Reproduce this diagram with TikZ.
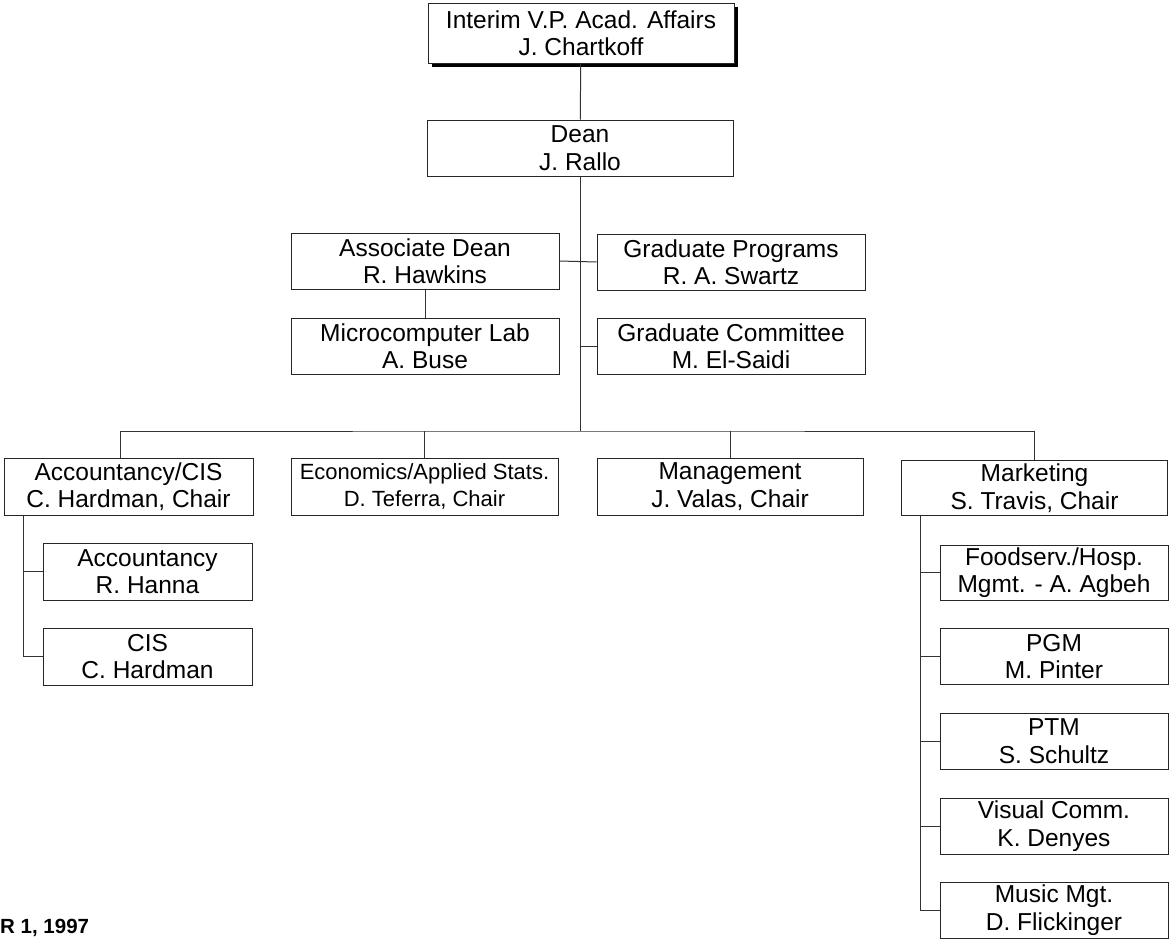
\documentclass[tikz,border=0pt]{standalone}
\usepackage{fontspec}
\setmainfont{Liberation Sans}
\usetikzlibrary{positioning,calc,shadows}

\begin{document}
\begin{tikzpicture}[x=1pt,y=-1pt,
    unit/.style={draw=black!85, line width=1pt, fill=white, align=center,
      inner sep=0pt, minimum width=#1, minimum height=56pt,
      font=\fontsize{24.5}{27.5}\selectfont},
    link/.style={draw=black!80, line width=1pt}]
            \useasboundingbox (0,0) rectangle (1170,948);
            \node[unit=306pt, minimum height=60pt,
              drop shadow={opacity=1, fill=black, shadow xshift=3.5pt, shadow yshift=-4pt}]
              (vp) at (581,33) {Interim V.P. Acad. Affairs\\J. Chartkoff};
            \node[unit=306pt] (dean) at (580,148) {Dean\\J. Rallo};
            \node[unit=268pt] (assoc) at (425,261) {Associate Dean\\R. Hawkins};
            \node[unit=268pt] (gradprog) at (731,262) {Graduate Programs\\R. A. Swartz};
            \node[unit=268pt] (microlab) at (425,346) {Microcomputer Lab\\A. Buse};
            \node[unit=268pt] (gradcomm) at (731,346) {Graduate Committee\\M. El-Saidi};
            \coordinate (bus) at (580,431);
            \node[unit=249pt, minimum height=57pt] (acc) at (128.5,486.5) {Accountancy/CIS\\C. Hardman, Chair};
            \node[unit=267pt, minimum height=57pt, font=\fontsize{22}{27.5}\selectfont] (econ) at (424.5,486.5) {Economics/Applied Stats.\\D. Teferra, Chair};
            \node[unit=266pt, minimum height=57pt] (mgmt) at (730,486.5) {Management\\J. Valas, Chair};
            \node[unit=266pt, minimum height=55pt] (mkt) at (1034.5,488) {Marketing\\S. Travis, Chair};
            \node[unit=209pt, minimum height=57pt] (accy) at (147.5,571.5) {Accountancy\\R. Hanna};
            \node[unit=209pt, minimum height=57pt] (cis) at (147.5,656.5) {CIS\\C. Hardman};
            \node[unit=228pt, minimum height=55pt] (food) at (1054,572.5) {Foodserv./Hosp.\\Mgmt. - A. Agbeh};
            \node[unit=228pt] (pgm) at (1054,656.5) {PGM\\M. Pinter};
            \node[unit=228pt] (ptm) at (1054,741) {PTM\\S. Schultz};
            \node[unit=228pt] (vis) at (1054,826) {Visual Comm.\\K. Denyes};
            \node[unit=228pt] (music) at (1054,910) {Music Mgt.\\D. Flickinger};
            \node[anchor=west, inner sep=0pt, font=\fontsize{20.5}{22}\selectfont\bfseries] (datenote) at (0,928) {R 1, 1997};
            \draw[link] (vp) -- (dean);
            \draw[link] (dean) -- (bus);
            \draw[link] (assoc) -- (microlab);
            \draw[link] (assoc.east) -- (gradprog.west);
            \draw[link] (gradcomm.west) -- (gradcomm.west -| bus);
            \draw[link] ([xshift=-8pt]acc.north) |- (bus) -| (mkt.north);
            \draw[link] (econ.north) -- (econ.north |- bus);
            \draw[link] (mgmt.north) -- (mgmt.north |- bus);
            \draw[link] ([xshift=20pt]acc.south west) coordinate (accspine) |- (cis.west);
            \draw[link] (accy.west) -- (accy.west -| accspine);
            \draw[link] ([xshift=19.5pt]mkt.south west) coordinate (mktspine) |- (music.west);
            \foreach \sub in {food,pgm,ptm,vis}
              \draw[link] (\sub.west) -- (\sub.west -| mktspine);
        \end{tikzpicture}
\end{document}
